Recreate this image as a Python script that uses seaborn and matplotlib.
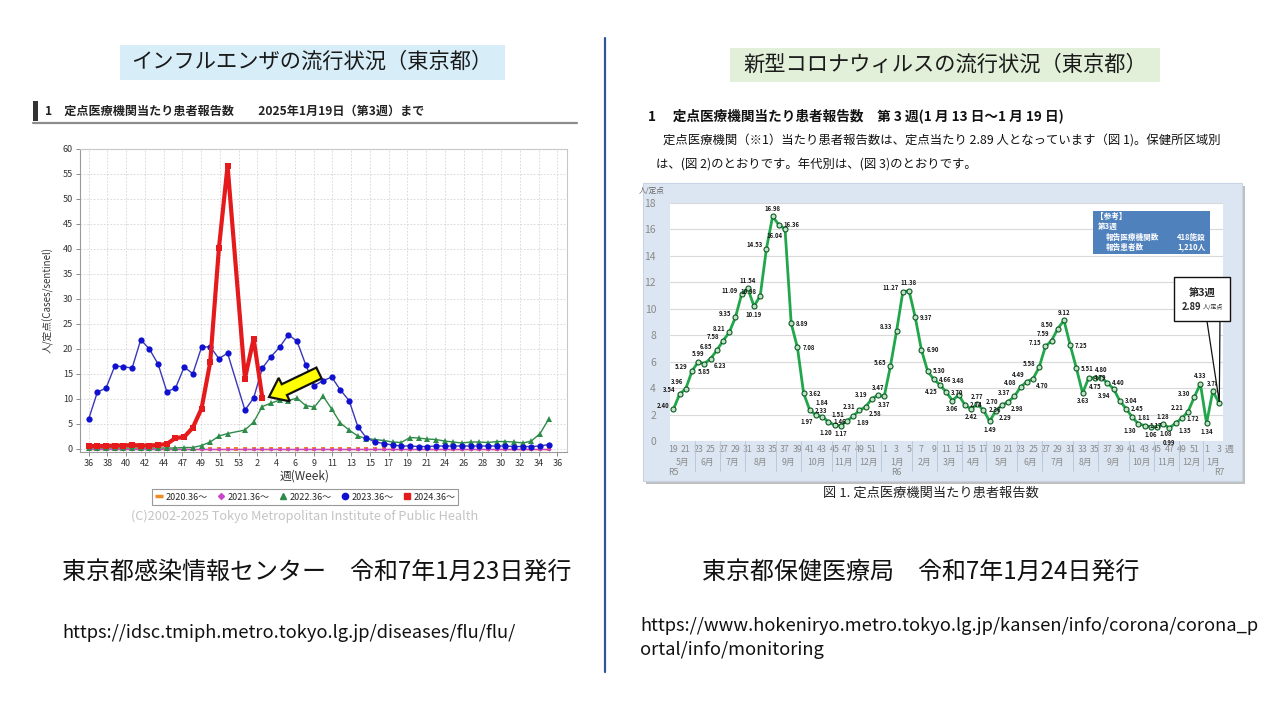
import numpy as np
import pandas as pd
import matplotlib
matplotlib.use("Agg")
import matplotlib.pyplot as plt
import seaborn as sns
from matplotlib.patches import Rectangle, FancyArrow, Polygon
from matplotlib.lines import Line2D
from matplotlib.transforms import IdentityTransform, blended_transform_factory

# ---------------- Influenza data (slot 17 = week 53) ----------------
flu_slots = list(range(54))
flu_tick_labels = ["36", "38", "40", "42", "44", "47", "49", "51", "53", "2", "4", "6", "9",
                   "11", "13", "15", "17", "19", "21", "24", "26", "28", "30", "32", "34", "36"]
flu_2020 = [0.0, 0.0, 0.0, 0.0, 0.0, 0.0, 0.0, 0.0, 0.0, 0.0, 0.0, 0.0, 0.0, 0.0, 0.0, 0.0, 0.0, 0.0,
            0.0, 0.0, 0.0, 0.0, 0.0, 0.0, 0.0, 0.0, 0.0, 0.0, 0.0, 0.0, 0.0, 0.0, 0.0, 0.0, 0.0, 0.0,
            0.0, 0.0, 0.0, 0.0, 0.0, 0.0, 0.0, 0.0, 0.0, 0.0, 0.0, 0.0, 0.0, 0.0, 0.0, 0.0, 0.0, 0.0]
flu_2021 = [0.0, 0.0, 0.0, 0.0, 0.0, 0.0, 0.0, 0.0, 0.0, 0.0, 0.0, 0.0, 0.0, 0.0, 0.0, 0.0, 0.0, None,
            0.0, 0.0, 0.0, 0.0, 0.0, 0.0, 0.0, 0.0, 0.0, 0.0, 0.0, 0.0, 0.0, 0.0, 0.0, 0.0, 0.0, 0.0,
            0.0, 0.0, 0.0, 0.0, 0.0, 0.0, 0.0, 0.0, 0.0, 0.0, 0.0, 0.0, 0.0, 0.0, 0.0, 0.0, 0.0, 0.0]
flu_2022 = [0.1, 0.1, 0.1, 0.1, 0.1, 0.1, 0.1, 0.1, 0.1, 0.1, 0.1, 0.2, 0.2, 0.6, 1.3, 2.5, 3.0, None,
            3.7, 5.3, 8.4, 9.1, 9.7, 9.6, 10.1, 8.6, 8.3, 10.5, 7.9, 5.1, 3.7, 2.5, 2.0, 1.8, 1.6, 1.3,
            1.2, 2.2, 2.1, 1.9, 1.8, 1.5, 1.3, 1.1, 1.3, 1.3, 1.2, 1.4, 1.4, 1.3, 1.1, 1.5, 3.0, 5.9]
flu_2023 = [5.9, 11.3, 12.1, 16.5, 16.4, 16.1, 21.8, 19.9, 16.9, 11.4, 12.1, 16.3, 15.0, 20.3, 20.4, 18.0, 19.1, None,
            7.7, 10.1, 16.1, 18.4, 20.3, 22.8, 21.5, 16.8, 12.6, 13.6, 14.3, 11.7, 9.6, 4.4, 2.1, 1.3, 1.0, 0.7,
            0.5, 0.5, 0.4, 0.4, 0.5, 0.5, 0.5, 0.5, 0.5, 0.5, 0.5, 0.5, 0.5, 0.4, 0.4, 0.4, 0.5, 0.8]
flu_2024 = [0.5, 0.5, 0.5, 0.6, 0.6, 0.7, 0.6, 0.6, 0.7, 0.9, 2.1, 2.3, 4.2, 8.0, 17.3, 40.1, 56.6, None,
            14.0, 22.0, 10.2]
flu_labels = ["2020.36～", "2021.36～", "2022.36～", "2023.36～", "2024.36～"]

# ---------------- COVID-19 data ----------------
covid_2023 = [2.40, 3.54, 3.96, 5.29, 5.99, 5.85, 6.23, 6.85, 7.58, 8.21, 9.35, 11.09, 11.54, 10.19,
              10.98, 14.53, 16.98, 16.36, 16.04, 8.89, 7.08, 3.62, 2.33, 1.97, 1.84, 1.46, 1.20, 1.17,
              1.51, 1.89, 2.31, 2.58, 3.19, 3.47]
covid_2024 = [3.37, 5.65, 8.33, 11.27, 11.38, 9.37, 6.90, 5.30, 4.66, 4.25, 3.70, 3.06, 3.48, 2.74,
              2.42, 2.77, 2.36, 1.49, 2.29, 2.70, 2.98, 3.37, 4.08, 4.49, 4.70, 5.58, 7.15, 7.59, 8.50,
              9.12, 7.25, 5.51, 3.63, 4.79, 4.75, 4.80, 4.40, 3.94, 3.04, 2.45, 1.81, 1.30, 1.17, 1.06,
              1.08, 1.28, 0.99, 1.35, 1.72, 2.21, 3.30, 4.33]
covid_2025 = [1.34, 3.78, 2.89]
covid_weeks = list(range(19, 53)) + list(range(1, 53)) + list(range(1, 4))
month_names = ["5月", "6月", "7月", "8月", "9月", "10月", "11月", "12月", "1月", "2月", "3月", "4月",
               "5月", "6月", "7月", "8月", "9月", "10月", "11月", "12月", "1月"]
month_weeks = [4, 4, 4, 5, 4, 5, 4, 4, 5, 4, 4, 4, 5, 4, 5, 4, 5, 4, 4, 4, 3]
era_labels = ["R5", "R6", "R7"]

# ---------------- figure setup ----------------
sns.set_theme(style="white")
plt.rcParams["font.family"] = ["Noto Sans CJK JP", "DejaVu Sans"]
W, H = 1280, 720
fig = plt.figure(figsize=(12.8, 7.2), dpi=100)
fig.patch.set_facecolor("white")


def P(x, y):
    return x / W, 1 - y / H


def ftext(x, y, s, **kw):
    return fig.text(x / W, 1 - y / H, s, **kw)


# ---------- slide decorations ----------
fig.add_artist(Rectangle(P(120, 80), 385 / W, 35 / H, transform=fig.transFigure,
                         facecolor="#d7eef9", edgecolor="none", zorder=-1))
ftext(312, 62, "インフルエンザの流行状況（東京都）", fontsize=15.3, ha="center", va="center", color="#1a1a1a")
fig.add_artist(Rectangle(P(730, 82), 430 / W, 34 / H, transform=fig.transFigure,
                         facecolor="#e2f0d9", edgecolor="none", zorder=-1))
ftext(945, 65, "新型コロナウィルスの流行状況（東京都）", fontsize=15.3, ha="center", va="center", color="#1a1a1a")
fig.add_artist(Line2D([605 / W, 605 / W], [1 - 38 / H, 1 - 672 / H], transform=fig.transFigure,
                      color="#2f5597", lw=1.6))

# left header
fig.add_artist(Rectangle(P(33, 121), 5 / W, 20 / H, transform=fig.transFigure,
                         facecolor="#333333", edgecolor="none"))
fig.add_artist(Line2D([33 / W, 577 / W], [1 - 123 / H, 1 - 123 / H], transform=fig.transFigure,
                      color="#8c8c8c", lw=1.6))
ftext(45, 111, "1　定点医療機関当たり患者報告数　　2025年1月19日（第3週）まで",
      fontsize=8.7, fontweight="bold", va="center", color="#222222")

# bottom texts
ftext(62, 572, "東京都感染情報センター　令和7年1月23日発行", fontsize=17.3, va="center", color="#111111")
ftext(62, 633, "https://idsc.tmiph.metro.tokyo.lg.jp/diseases/flu/flu/", fontsize=13.2, va="center",
      color="#111111")
ftext(702, 572, "東京都保健医療局　令和7年1月24日発行", fontsize=17.3, va="center", color="#111111")
ftext(640, 626, "https://www.hokeniryo.metro.tokyo.lg.jp/kansen/info/corona/corona_p", fontsize=13.2,
      va="center", color="#111111")
ftext(640, 650, "ortal/info/monitoring", fontsize=13.2, va="center", color="#111111")

# right header
ftext(648, 116, "1　 定点医療機関当たり患者報告数　第 3 週(1 月 13 日～1 月 19 日)", fontsize=9.8,
      fontweight="bold", va="center", color="#111111")
ftext(663, 141, "定点医療機関（※1）当たり患者報告数は、定点当たり 2.89 人となっています（図 1)。保健所区域別",
      fontsize=8.9, va="center", color="#111111")
ftext(656, 164, "は、(図 2)のとおりです。年代別は、(図 3)のとおりです。", fontsize=8.9, va="center",
      color="#111111")

# ================= LEFT: influenza chart =================
ax = fig.add_axes([80 / W, 1 - 452 / H, 487 / W, 303 / H])
ax.set_facecolor("white")


def draw_series(axis, xs, ys, **kw):
    df = pd.DataFrame({"x": xs[:len(ys)], "y": ys}).dropna()
    sns.lineplot(data=df, x="x", y="y", ax=axis, estimator=None, **kw)


draw_series(ax, flu_slots, flu_2020, color="#f08a24", lw=1, marker="s", markersize=2.5,
            markeredgewidth=0, zorder=2)
draw_series(ax, flu_slots, flu_2021, color="#cc44cc", lw=1, marker="D", markersize=2.2,
            markeredgewidth=0, zorder=3)
draw_series(ax, flu_slots, flu_2022, color="#2e8b4a", lw=1, marker="^", markersize=4,
            markeredgewidth=0, zorder=4)
draw_series(ax, flu_slots, flu_2023, color="#3838b8", lw=1, marker="o", markersize=4.5,
            markerfacecolor="#1010d0", markeredgewidth=0, zorder=5)
draw_series(ax, flu_slots, flu_2024, color="#e41a1c", lw=3, marker="s", markersize=5,
            markeredgewidth=0, zorder=6)

ax.set_xlim(-1, 55.1)
ax.set_ylim(-0.7, 60)
ax.set_xticks(np.linspace(0, 54, len(flu_tick_labels)))
ax.set_xticklabels(flu_tick_labels)
ax.set_yticks(np.arange(0, 61, 5))
ax.set_xlabel("")
ax.set_ylabel("")
ax.set_axisbelow(True)
ax.grid(True, linestyle=(0, (2, 2)), color="#d4d4d4", lw=0.6)
ax.tick_params(axis="both", length=3, width=0.6, color="#777777", labelsize=6.5, labelcolor="#333333",
               pad=2, bottom=True, left=True)
for side in ["left", "bottom"]:
    ax.spines[side].set_color("#9a9a9a")
    ax.spines[side].set_linewidth(0.8)
for side in ["top", "right"]:
    ax.spines[side].set_color("#c8c8c8")
    ax.spines[side].set_linewidth(0.8)

ftext(48, 300, "人/定点(Cases/sentinel)", fontsize=7, rotation=90, ha="center", va="center", color="#333333")
ftext(305, 476, "週(Week)", fontsize=8.5, ha="center", va="center", color="#333333")

handles = [
    Line2D([], [], color="#f08a24", marker="_", markersize=6, markeredgewidth=2.5, linestyle="none"),
    Line2D([], [], color="#cc44cc", marker="D", markersize=3, linestyle="none"),
    Line2D([], [], color="#2e8b4a", marker="^", markersize=4, linestyle="none"),
    Line2D([], [], color="#1010d0", marker="o", markersize=4.5, linestyle="none"),
    Line2D([], [], color="#e41a1c", marker="s", markersize=4.5, linestyle="none"),
]
leg = fig.legend(handles, flu_labels, loc="center", bbox_to_anchor=P(305, 497), ncol=5, fontsize=6.5,
                 frameon=True, fancybox=False, edgecolor="#808080", handletextpad=0.2, columnspacing=1.0,
                 borderpad=0.35, handlelength=1.0)
leg.get_frame().set_linewidth(0.8)
ftext(305, 516, "(C)2002-2025 Tokyo Metropolitan Institute of Public Health", fontsize=9.2,
      ha="center", va="center", color="#c4c4c4")

# yellow arrow (pixel coordinates)
arrow = FancyArrow(319, H - 373, -50, -24, width=12, head_width=26, head_length=17,
                   length_includes_head=True, transform=IdentityTransform(),
                   facecolor="#ffff00", edgecolor="#111111", lw=1.6, zorder=20)
fig.add_artist(arrow)

# ================= RIGHT: COVID chart =================
fig.add_artist(Rectangle(P(646, 484), 599 / W, 298 / H, transform=fig.transFigure,
                         facecolor="#bfbfbf", edgecolor="none", zorder=-3))
fig.add_artist(Rectangle(P(643, 481), 599 / W, 298 / H, transform=fig.transFigure,
                         facecolor="#dce6f2", edgecolor="#c8d4e3", lw=0.8, zorder=-2))

ax2 = fig.add_axes([670 / W, 1 - 441 / H, 552.7 / W, 238 / H])
ax2.set_facecolor("white")
covid_vals = covid_2023 + covid_2024 + covid_2025
covid_idx = list(range(len(covid_vals)))
sns.lineplot(x=covid_idx, y=covid_vals, ax=ax2, color="#22a64b", lw=2.0, marker="o", markersize=3.6,
             markerfacecolor="#bfe3c7", markeredgecolor="#0c5a22", markeredgewidth=0.8,
             estimator=None, zorder=3)
ax2.set_xlim(-0.55, 88.6)
ax2.set_ylim(0, 18)
ax2.set_yticks(np.arange(0, 19, 2))
ax2.set_xlabel("")
ax2.set_ylabel("")
odd_idx = [i for i, w in enumerate(covid_weeks) if w % 2 == 1]
ax2.set_xticks(odd_idx)
ax2.set_xticklabels([str(covid_weeks[i]) for i in odd_idx])
ax2.tick_params(axis="x", length=0, labelsize=6.3, labelcolor="#8a8a8a", pad=3)
ax2.tick_params(axis="y", length=0, labelsize=7.5, labelcolor="#8a8a8a", pad=10)
for s in ax2.spines.values():
    s.set_visible(False)
ax2.set_axisbelow(True)
ax2.grid(axis="y", color="#d9d9d9", lw=0.8)
ax2.grid(axis="x", visible=False)

# info box
fig.add_artist(Rectangle(P(1093, 254), 117 / W, 43 / H, transform=fig.transFigure,
                         facecolor="#4f81bd", edgecolor="none", zorder=6))
ftext(1096, 216, "【参考】", fontsize=5.5, color="white", fontweight="bold", va="center", zorder=7)
ftext(1098, 226.5, "第3週", fontsize=5.5, color="white", fontweight="bold", va="center", zorder=7)
ftext(1106, 237, "報告医療機関数", fontsize=5.5, color="white", fontweight="bold", va="center", zorder=7)
ftext(1206, 237, "418施設", fontsize=5.5, color="white", fontweight="bold", va="center", ha="right", zorder=7)
ftext(1106, 247, "報告患者数", fontsize=5.5, color="white", fontweight="bold", va="center", zorder=7)
ftext(1206, 247, "1,210人", fontsize=5.5, color="white", fontweight="bold", va="center", ha="right", zorder=7)

# callout box
fig.add_artist(Polygon([P(1206.5, 318), P(1219.3, 402), P(1220, 318)], closed=False,
                       transform=fig.transFigure, facecolor="white", edgecolor="#111111", lw=0.9, zorder=8))
fig.add_artist(Rectangle(P(1174, 321), 56 / W, 44 / H, transform=fig.transFigure,
                         facecolor="white", edgecolor="#111111", lw=1.0, zorder=9))
ftext(1202, 293, "第3週", fontsize=7.5, fontweight="bold", ha="center", va="center", zorder=10)
ftext(1201, 307, "2.89", fontsize=6.8, fontweight="bold", ha="right", va="center", zorder=10)
ftext(1203, 307.5, "人/定点", fontsize=4.3, ha="left", va="center", zorder=10)

# month / era axis rows
trans = blended_transform_factory(ax2.transData, ax2.transAxes)
start = 0
bounds = [0]
for name, cnt in zip(month_names, month_weeks):
    center = start + (cnt - 1) / 2
    ax2.text(center, -0.092, name, transform=trans, ha="center", va="center", fontsize=6.3,
             color="#8a8a8a")
    start += cnt
    bounds.append(start)
for b in bounds[1:-1]:
    ax2.add_line(Line2D([b - 0.5, b - 0.5], [0, -0.125], transform=trans, color="#b9c8da", lw=0.7,
                        clip_on=False))
year_starts = [0, covid_weeks.index(1), len(covid_vals) - 1]
ax2.text(year_starts[0], -0.134, era_labels[0], transform=trans, ha="center", va="center",
         fontsize=6.3, color="#8a8a8a")
ax2.text(year_starts[1] + 2, -0.134, era_labels[1], transform=trans, ha="center", va="center",
         fontsize=6.3, color="#8a8a8a")
ax2.text(year_starts[2], -0.134, era_labels[2], transform=trans, ha="center", va="center",
         fontsize=6.3, color="#8a8a8a")
ftext(1229, 449, "週", fontsize=6.5, ha="center", va="center", color="#8a8a8a")
ftext(652, 191, "人/定点", fontsize=5.5, ha="center", va="center", color="#666666")

ftext(931, 493, "図 1. 定点医療機関当たり患者報告数", fontsize=9.5, ha="center", va="center", color="#222222")

# data labels with greedy collision avoidance
renderer = fig.canvas.get_renderer()
placed = []
cands_all = {
    "up": ((0, 3.2), "center", "bottom"),
    "down": ((0, -3.2), "center", "top"),
    "left": ((-3, 0.5), "right", "bottom"),
    "right": ((3.5, 0), "left", "center"),
    "upleft": ((-2, 2.5), "right", "bottom"),
    "upright": ((2, 2.5), "left", "bottom"),
    "downleft": ((-2, -2.5), "right", "top"),
    "downright": ((2, -2.5), "left", "top"),
    "up2": ((0, 8), "center", "bottom"),
    "down2": ((0, -8), "center", "top"),
}
n = len(covid_vals)
for i, v in enumerate(covid_vals):
    if i == n - 1:
        continue
    prev_v = covid_vals[i - 1] if i > 0 else v - 1
    next_v = covid_vals[i + 1]
    if v >= prev_v and v >= next_v:
        order = ["up", "upleft", "upright", "up2", "left", "right"]
    elif v <= prev_v and v <= next_v:
        order = ["down", "downleft", "downright", "down2", "left", "right"]
    elif prev_v < v:
        order = ["left", "upleft", "downright", "right", "up2", "down2"]
    else:
        order = ["right", "upright", "downleft", "left", "up2", "down2"]
    chosen = None
    first = None
    for key in order:
        off, ha, va = cands_all[key]
        t = ax2.annotate(f"{v:.2f}", (i, v), xytext=off, textcoords="offset points", ha=ha, va=va,
                         fontsize=4.3, fontweight="bold", color="#1a1a1a", zorder=5)
        bb = t.get_window_extent(renderer).expanded(1.02, 1.0)
        if not any(bb.overlaps(o) for o in placed):
            chosen = (t, bb)
            break
        if first is None:
            first = (t, bb)
        else:
            t.remove()
            continue
    if chosen is None:
        chosen = first
    else:
        if first is not None and first[0] is not chosen[0]:
            first[0].remove()
    placed.append(chosen[1])

fig.savefig("out.png", dpi=100)
